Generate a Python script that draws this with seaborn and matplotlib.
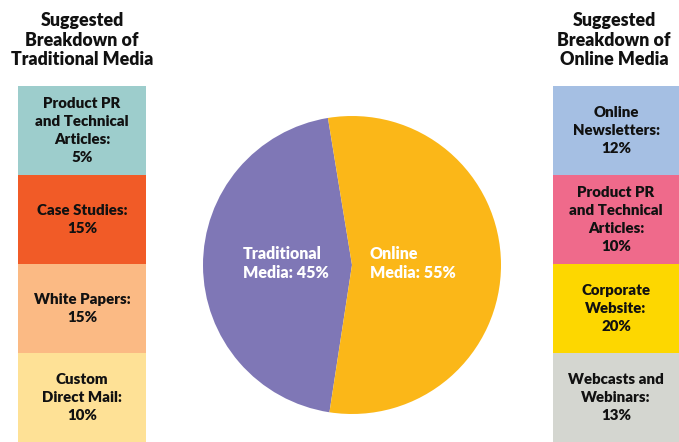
import matplotlib
matplotlib.use("Agg")
import matplotlib.pyplot as plt
import seaborn as sns

# ---- data ----
media_types = ["Traditional", "Online"]
media_shares = [45, 55]
media_colors = ["#7f77b6", "#fbb718"]

trad_categories = ["Product PR\nand Technical\nArticles:", "Case Studies:", "White Papers:", "Custom\nDirect Mail:"]
trad_values = [5, 15, 15, 10]
trad_colors = ["#9dcdcc", "#f15b27", "#fbba84", "#fee196"]

online_categories = ["Online\nNewsletters:", "Product PR\nand Technical\nArticles:", "Corporate\nWebsite:", "Webcasts and\nWebinars:"]
online_values = [12, 10, 20, 13]
online_colors = ["#a5bfe3", "#ef6a8b", "#fdd700", "#d4d6d0"]

sns.set_theme(style="white")
plt.rcParams["font.family"] = ["Lato", "DejaVu Sans"]

W, H = 679, 442
fig = plt.figure(figsize=(W / 100, H / 100), dpi=100)


def column(x0, width, cats, vals, colors, title, title_x):
    ax = fig.add_axes([x0 / W, 0, width / W, 356 / H])
    n = len(cats)
    for i, (c, v, col) in enumerate(zip(cats, vals, colors)):
        ax.bar(0.5, 1, width=1, bottom=n - 1 - i, color=col, edgecolor="none")
        ax.text(0.5, n - 1 - i + 0.5, f"{c}\n{v}%", ha="center", va="center",
                fontsize=10.8, fontweight="heavy", color="#111111", linespacing=1.45)
    ax.set_xlim(0, 1)
    ax.set_ylim(0, n)
    ax.axis("off")
    fig.text(title_x / W, 1 - 40 / H, title, ha="center", va="center",
             fontsize=12.8, fontweight="heavy", color="#111111", linespacing=1.2)


column(18, 128, trad_categories, trad_values, trad_colors,
       "Suggested\nBreakdown of\nTraditional Media", 82)
column(553, 126, online_categories, online_values, online_colors,
       "Suggested\nBreakdown of\nOnline Media", 614)

# pie
cx, cy, r = 352, 265, 149
pax = fig.add_axes([(cx - r) / W, (H - cy - r) / H, 2 * r / W, 2 * r / H])
pax.pie(media_shares, colors=media_colors, startangle=99.3, counterclock=True,
        wedgeprops=dict(edgecolor="none"))
pax.set_aspect("equal")
pax.set_xlim(-1, 1)
pax.set_ylim(-1, 1)
pax.text(-0.73, 0.01, f"{media_types[0]}\nMedia: {media_shares[0]}%", ha="left", va="center",
         color="white", fontsize=11.5, fontweight="heavy", linespacing=1.3)
pax.text(0.12, 0.01, f"{media_types[1]}\nMedia: {media_shares[1]}%", ha="left", va="center",
         color="white", fontsize=11.5, fontweight="heavy", linespacing=1.3)

fig.savefig("out.png", dpi=100)
